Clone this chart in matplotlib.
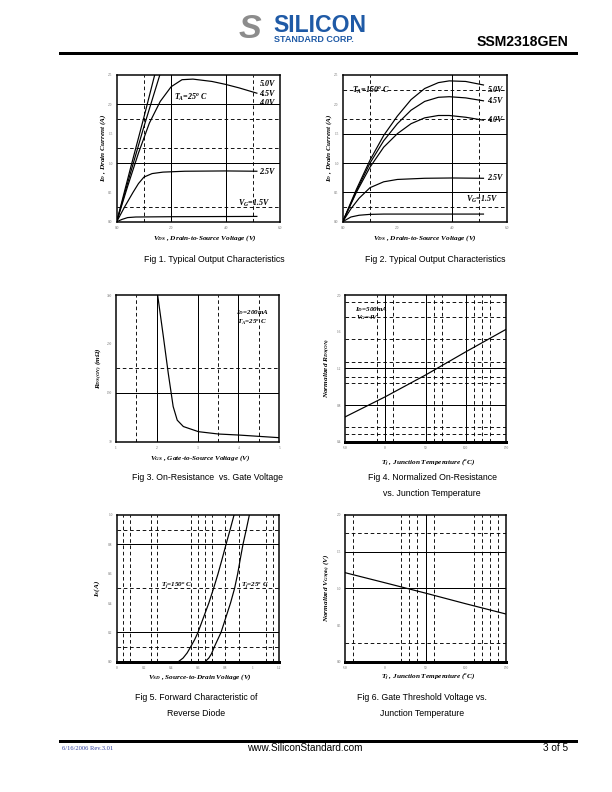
import numpy as np
import matplotlib.pyplot as plt
from matplotlib.lines import Line2D

plt.rcParams['mathtext.fontset'] = 'custom'
plt.rcParams['mathtext.it'] = 'Liberation Serif:italic:bold'
plt.rcParams['mathtext.rm'] = 'Liberation Serif:italic:bold'
plt.rcParams['mathtext.bf'] = 'Liberation Serif:italic:bold'

# ---- Fig 1 : output characteristics, Ta = 25C ----
f1_vds_50 = [0, 0.5, 1.0, 1.45]
f1_id_50 = [0, 0.9, 1.78, 2.6]
f1_vds_45 = [0, 0.5, 1.0, 1.65]
f1_id_45 = [0, 0.82, 1.62, 2.6]
f1_vds_40 = [0, 0.4, 0.8, 1.2, 1.6, 2.0, 2.4, 2.8, 3.5, 4.0, 4.5, 5.15]
f1_id_40 = [0, 0.6, 1.17, 1.68, 2.05, 2.3, 2.42, 2.43, 2.39, 2.34, 2.28, 2.19]
f1_vds_25 = [0, 0.3, 0.6, 0.8, 1.0, 1.3, 1.7, 2.5, 4.0, 5.15]
f1_id_25 = [0, 0.26, 0.5, 0.65, 0.76, 0.82, 0.845, 0.86, 0.865, 0.86]
f1_vds_15 = [0, 0.2, 0.4, 0.7, 2.0, 5.15]
f1_id_15 = [0, 0.04, 0.07, 0.08, 0.085, 0.09]

# ---- Fig 2 : output characteristics, Ta = 150C ----
f2_vds = [0, 0.5, 1.0, 1.5, 2.0, 2.5, 3.0, 3.5, 3.9, 4.5, 5.15]
f2_id_50 = [0, 0.55, 1.05, 1.47, 1.8, 2.08, 2.27, 2.37, 2.40, 2.39, 2.33]
f2_id_45 = [0, 0.52, 1.0, 1.38, 1.67, 1.9, 2.05, 2.12, 2.13, 2.11, 2.06]
f2_id_40 = [0, 0.5, 0.93, 1.27, 1.5, 1.67, 1.77, 1.81, 1.81, 1.78, 1.73]
f2_vds_low = [0, 0.3, 0.6, 1.0, 1.5, 2.0, 3.0, 4.0, 5.15]
f2_id_25 = [0, 0.22, 0.4, 0.58, 0.68, 0.72, 0.74, 0.745, 0.74]
f2_id_15 = [0, 0.08, 0.11, 0.125, 0.13, 0.13, 0.13, 0.13, 0.13]

# ---- Fig 3 : Rds(on) vs Vgs ----
f3_vgs = [2.02, 2.16, 2.28, 2.40, 2.50, 2.65, 3.02, 3.51, 4.01, 5.0]
f3_rds = [330, 245, 170, 102, 74, 61, 50.5, 45.7, 43.6, 38.2]

# ---- Fig 4 : normalized Rds(on) vs Tj ----
f4_tj = [-50, 0, 50, 100, 150]
f4_rn = [0.67, 0.89, 1.127, 1.38, 1.625]

# ---- Fig 5 : body diode forward characteristic ----
f5_vsd_150 = [0.455, 0.49, 0.52, 0.545, 0.575, 0.60, 0.64, 0.68, 0.715,
              0.748, 0.778, 0.807, 0.837, 0.866]
f5_is_150 = [0.0, 0.025, 0.06, 0.1, 0.15, 0.2, 0.3, 0.4, 0.5, 0.6, 0.7, 0.8, 0.9, 1.0]
f5_vsd_25 = [0.652, 0.68, 0.70, 0.72, 0.745, 0.77, 0.805, 0.84, 0.87,
             0.893, 0.912, 0.932, 0.956, 0.979]
f5_is_25 = [0.0, 0.025, 0.055, 0.1, 0.15, 0.2, 0.3, 0.4, 0.5, 0.6, 0.7, 0.8, 0.9, 1.0]

# ---- Fig 6 : normalized Vgs(th) vs Tj ----
f6_tj = [-50, 0, 50, 100, 150]
f6_vn = [1.214, 1.075, 0.935, 0.79, 0.65]

W, H = 612, 792
fig = plt.figure(figsize=(W / 72, H / 72), dpi=72)
SERIF = 'Liberation Serif'
SANS = 'Liberation Sans'


def fx(x):
    return x / W


def fy(y):
    return 1 - y / H


def make_ax(l, t, r, b, xlim, ylim, xt, xtl, yt, ytl, thick_bottom=False):
    ax = fig.add_axes([fx(l), fy(b), (r - l) / W, (b - t) / H])
    ax.set_xlim(*xlim)
    ax.set_ylim(*ylim)
    ax.set_xticks(xt)
    ax.set_xticklabels(xtl)
    ax.set_yticks(yt)
    ax.set_yticklabels(ytl)
    ax.tick_params(length=0, labelsize=3.5, pad=4, colors='#666666')
    for lab in ax.get_xticklabels() + ax.get_yticklabels():
        lab.set_family(SERIF)
    for s in ax.spines.values():
        s.set_linewidth(1.5)
    if thick_bottom:
        ax.spines['bottom'].set_linewidth(3)
    return ax


def grid(ax, hs=(), hd=(), vs=(), vd=()):
    for v in hs:
        ax.axhline(v, color='k', lw=1.0)
    for v in hd:
        ax.axhline(v, color='k', lw=0.9, ls=(0, (4, 3)))
    for v in vs:
        ax.axvline(v, color='k', lw=1.0)
    for v in vd:
        ax.axvline(v, color='k', lw=0.9, ls=(0, (4, 3)))


def lab(ax, x, y, s, size=8, ha='left'):
    ax.text(x, y, s, fontsize=size, family=SERIF, weight='bold', style='italic',
            ha=ha, va='center')


def axis_text(x, y, s, rot=0, size=7.3):
    fig.text(fx(x), fy(y), s, fontsize=size, family=SERIF, weight='bold',
             style='italic', ha='center', va='center', rotation=rot)


def caption(x, y, s):
    fig.text(fx(x), fy(y), s, fontsize=8.8, family=SANS, ha='center', va='center')


LW = 1.2

# Fig 1
ax1 = make_ax(116.7, 75, 280, 221.7, (0, 6), (0, 2.5), [0, 2, 4, 6],
              ['0.0', '2.0', '4.0', '6.0'], [0, 0.5, 1, 1.5, 2, 2.5],
              ['0.0', '0.5', '1.0', '1.5', '2.0', '2.5'])
grid(ax1, hs=[1.0, 2.0], hd=[0.25, 1.25, 1.75], vs=[2.0, 4.0], vd=[1.0, 5.0])
ax1.plot(f1_vds_50, f1_id_50, 'k', lw=LW)
ax1.plot(f1_vds_45, f1_id_45, 'k', lw=LW)
ax1.plot(f1_vds_40, f1_id_40, 'k', lw=LW)
ax1.plot(f1_vds_25, f1_id_25, 'k', lw=LW)
ax1.plot(f1_vds_15, f1_id_15, 'k', lw=LW)
lab(ax1, 5.25, 2.34, '5.0V')
lab(ax1, 5.25, 2.18, '4.5V')
lab(ax1, 5.25, 2.02, '4.0V')
lab(ax1, 5.25, 0.85, '2.5V')
lab(ax1, 4.45, 0.32, r'V$_G$=1.5V')
lab(ax1, 2.1, 2.12, r'T$_A$=25$^o$ C')
axis_text(205, 238, r'V$_{DS}$ , Drain-to-Source Voltage (V)')
axis_text(103, 148, r'I$_D$ , Drain Current (A)', rot=90)
caption(214, 259, 'Fig 1. Typical Output Characteristics')

# Fig 2
ax2 = make_ax(342.7, 75, 506.7, 221.7, (0, 6), (0, 2.5), [0, 2, 4, 6],
              ['0.0', '2.0', '4.0', '6.0'], [0, 0.5, 1, 1.5, 2, 2.5],
              ['0.0', '0.5', '1.0', '1.5', '2.0', '2.5'])
grid(ax2, hs=[0.5, 1.0, 1.5], hd=[0.25, 1.75, 2.25], vs=[4.0], vd=[1.0, 5.0])
ax2.plot(f2_vds, f2_id_50, 'k', lw=LW)
ax2.plot(f2_vds, f2_id_45, 'k', lw=LW)
ax2.plot(f2_vds, f2_id_40, 'k', lw=LW)
ax2.plot(f2_vds_low, f2_id_25, 'k', lw=LW)
ax2.plot(f2_vds_low, f2_id_15, 'k', lw=LW)
lab(ax2, 5.3, 2.24, '5.0V')
lab(ax2, 5.3, 2.06, '4.5V')
lab(ax2, 5.3, 1.74, '4.0V')
lab(ax2, 5.3, 0.74, '2.5V')
lab(ax2, 4.5, 0.38, r'V$_G$=1.5V')
lab(ax2, 0.35, 2.24, r'T$_A$=150$^o$ C')
axis_text(425, 238, r'V$_{DS}$ , Drain-to-Source Voltage (V)')
axis_text(329, 148, r'I$_D$ , Drain Current (A)', rot=90)
caption(435, 259, 'Fig 2. Typical Output Characteristics')

# Fig 3
ax3 = make_ax(116, 295, 279.3, 441.7, (1, 5), (30, 330), [1, 2, 3, 4, 5],
              ['1', '2', '3', '4', '5'], [30, 130, 230, 330],
              ['30', '130', '230', '330'])
grid(ax3, hs=[130], hd=[180], vs=[2, 3, 4], vd=[1.5, 3.5, 4.5])
ax3.plot(f3_vgs, f3_rds, 'k', lw=LW)
lab(ax3, 3.95, 295, r'I$_D$=200mA', size=7)
lab(ax3, 3.97, 273, r'T$_A$=25$^o$ C', size=7)
axis_text(200, 458, r'V$_{GS}$ , Gate-to-Source Voltage (V)')
axis_text(99, 368, r'R$_{DS(ON)}$ (m$\Omega$)', rot=90)
caption(208, 478, 'Fig 3. On-Resistance  vs. Gate Voltage')

# Fig 4
ax4 = make_ax(345, 295, 506, 441.7, (-50, 150), (0.4, 2.0), [-50, 0, 50, 100, 150],
              ['-50', '0', '50', '100', '150'], [0.4, 0.8, 1.2, 1.6, 2.0],
              ['0.4', '0.8', '1.2', '1.6', '2.0'], thick_bottom=True)
grid(ax4, hs=[0.8, 1.2], hd=[0.48, 0.56, 1.04, 1.11, 1.27, 1.52, 1.76, 1.92],
     vs=[0, 50, 100], vd=[-10, 10, 60, 70, 110, 120, 130])
ax4.plot(f4_tj, f4_rn, 'k', lw=LW)
lab(ax4, -38, 1.84, r'I$_D$=500mA', size=7)
lab(ax4, -36, 1.755, r'V$_G$=4V', size=7)
axis_text(428, 463, r'T$_j$ , Junction Temperature ($^o$C)')
axis_text(327, 368, r'Normalized R$_{DS(ON)}$', rot=90)
caption(432, 478, 'Fig 4. Normalized On-Resistance')
caption(432, 493, 'vs. Junction Temperature')

# Fig 5
ax5 = make_ax(116.7, 515, 279.3, 661.7, (0, 1.2), (0, 1.0),
              [0, 0.2, 0.4, 0.6, 0.8, 1.0, 1.2],
              ['0', '0.2', '0.4', '0.6', '0.8', '1', '1.2'],
              [0, 0.2, 0.4, 0.6, 0.8, 1.0],
              ['0.0', '0.2', '0.4', '0.6', '0.8', '1.0'], thick_bottom=True)
grid(ax5, hs=[0.2, 0.8], hd=[0.1, 0.5, 0.9],
     vd=[0.05, 0.1, 0.25, 0.3, 0.55, 0.6, 0.65, 0.7, 0.8, 0.9, 1.1, 1.15])
ax5.plot(f5_vsd_150, f5_is_150, 'k', lw=LW)
ax5.plot(f5_vsd_25, f5_is_25, 'k', lw=LW)
lab(ax5, 0.33, 0.515, r'T$_j$=150$^o$ C', size=7)
lab(ax5, 0.92, 0.515, r'T$_j$=25$^o$ C', size=7)
axis_text(200, 677, r'V$_{SD}$ , Source-to-Drain Voltage (V)')
axis_text(97, 588, r'I$_S$(A)', rot=90)
caption(196, 698, 'Fig 5. Forward Characteristic of')
caption(196, 714, 'Reverse Diode')

# Fig 6
ax6 = make_ax(345, 515, 506, 661.7, (-50, 150), (0, 2.0), [-50, 0, 50, 100, 150],
              ['-50', '0', '50', '100', '150'], [0, 0.5, 1.0, 1.5, 2.0],
              ['0.0', '0.5', '1.0', '1.5', '2.0'], thick_bottom=True)
grid(ax6, hs=[1.0, 1.5], hd=[0.25, 1.75], vs=[50],
     vd=[-40, 20, 30, 40, 60, 110, 120, 130, 140])
ax6.plot(f6_tj, f6_vn, 'k', lw=LW)
axis_text(428, 677, r'T$_j$ , Junction Temperature ($^o$C)')
axis_text(327, 588, r'Normalized V$_{GS(th)}$ (V)', rot=90)
caption(422, 698, 'Fig 6. Gate Threshold Voltage vs.')
caption(422, 714, 'Junction Temperature')

# header
blue = '#1f5aa6'
fig.text(fx(250), fy(30), 'S', fontsize=34, family=SANS, weight='bold', style='italic',
         color='#8c8c8c', ha='center', va='center')
fig.text(fx(273), fy(25), 'SILICON', fontsize=23, family=SANS, weight='bold',
         color=blue, ha='left', va='center')
fig.text(fx(274), fy(40), 'STANDARD CORP.', fontsize=9, family=SANS, weight='bold',
         color=blue, ha='left', va='center')
fig.text(fx(568), fy(42), 'SSM2318GEN', fontsize=14, family=SANS, weight='bold',
         ha='right', va='center')
fig.add_artist(Line2D([fx(60), fx(576)], [fy(53), fy(53)], color='k', lw=3))

# footer
fig.add_artist(Line2D([fx(60), fx(576)], [fy(741), fy(741)], color='k', lw=3))
fig.text(fx(62), fy(748), '6/16/2006 Rev.3.01', fontsize=6.5, family=SERIF,
         color='#3040a0', ha='left', va='center')
fig.text(fx(305), fy(748), 'www.SiliconStandard.com', fontsize=10, family=SANS,
         ha='center', va='center')
fig.text(fx(568), fy(748), '3 of 5', fontsize=10, family=SANS, ha='right', va='center')

fig.savefig('out.png', dpi=72, facecolor='white')
